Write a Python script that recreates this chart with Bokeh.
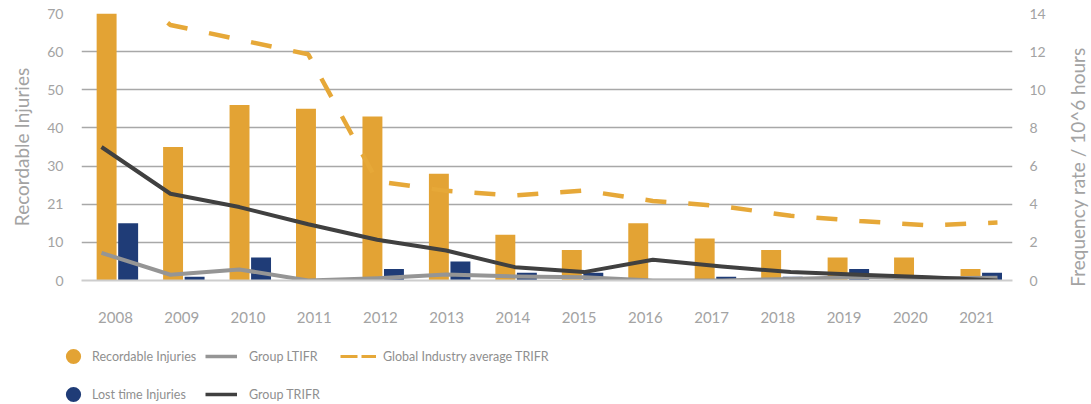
import math
from bokeh.plotting import figure
from bokeh.layouts import row, column
from bokeh.models import (ColumnDataSource, Range1d, LinearAxis, FixedTicker, Legend,
                          LegendItem, Label)
from bokeh.transform import dodge
from bokeh.embed import file_html
from bokeh.resources import INLINE

# ---------------- data ----------------
years = ["2008", "2009", "2010", "2011", "2012", "2013", "2014",
         "2015", "2016", "2017", "2018", "2019", "2020", "2021"]
recordable = [70, 35, 46, 45, 43, 28, 12, 8, 15, 11, 8, 6, 6, 3]
lost_time = [15, 1, 6, 0, 3, 5, 2, 2, 0, 1, 1, 3, 0, 2]
group_ltifr = [1.45, 0.30, 0.58, 0.0, 0.12, 0.31, 0.21, 0.17, 0.0, 0.0, 0.08, 0.18, 0.12, 0.14]
group_trifr = [7.0, 4.55, 3.85, 2.95, 2.14, 1.57, 0.70, 0.44, 1.09, 0.74, 0.44, 0.30, 0.17, 0.0]
global_trifr = [16.4, 13.4, 12.63, 11.86, 5.2, 4.70, 4.46, 4.72, 4.17, 3.90, 3.39, 3.12, 2.89, 3.04]

left_ticks = [0, 10, 20, 30, 40, 50, 60, 70]
left_tick_labels = ["0", "10", "21", "30", "40", "50", "60", "70"]
right_ticks = [0, 2, 4, 6, 8, 10, 12, 14]

# ---------------- style ----------------
FONT = "Lato"
ORANGE = "#E3A334"
NAVY = "#1F3C77"
DARK = "#404040"
GREY = "#959595"
DASH = "#E6A838"
GRID = "#a8a8a8"
TXT = "#a3a3a3"
LEG_TXT = "#8f8f8f"
NAN = float("nan")

idx = list(range(len(years)))
src = ColumnDataSource(dict(idx=idx, rec=recordable, lost=lost_time,
                            ltifr=group_ltifr, trifr=group_trifr, glob=global_trifr))

# ---------------- main chart ----------------
p = figure(frame_width=931, frame_height=267,
           min_border_left=81, min_border_right=52, min_border_top=13, min_border_bottom=50,
           x_range=Range1d(-0.54, 13.47), y_range=Range1d(0, 70),
           x_axis_location=None, y_axis_location=None,
           output_backend="svg", toolbar_location=None)
p.outline_line_color = None
p.background_fill_color = "white"
p.border_fill_color = "white"
p.extra_x_ranges = {"lines": Range1d(-0.29, 13.218), "labels": Range1d(-0.513, 13.543)}
p.extra_y_ranges = {"freq": Range1d(0, 14)}

p.xgrid.visible = False
p.ygrid.ticker = FixedTicker(ticks=left_ticks)
p.ygrid.grid_line_color = GRID
p.ygrid.grid_line_width = 1.3

# bars
p.vbar(x=dodge("idx", -0.162, range=p.x_range), top="rec", width=0.30, bottom=0,
       source=src, fill_color=ORANGE, line_color=None)
p.vbar(x=dodge("idx", 0.162, range=p.x_range), top="lost", width=0.30, bottom=0,
       source=src, fill_color=NAVY, line_color=None)

# lines
p.line("idx", "glob", source=src, x_range_name="lines", y_range_name="freq",
       line_color=DASH, line_width=4.5, line_dash="21 22")
p.line("idx", "ltifr", source=src, x_range_name="lines", y_range_name="freq",
       line_color=GREY, line_width=4, line_join="round")
p.line("idx", "trifr", source=src, x_range_name="lines", y_range_name="freq",
       line_color=DARK, line_width=4, line_join="round")

# axes
xa = LinearAxis(x_range_name="labels", ticker=FixedTicker(ticks=idx),
                major_label_overrides={i: y for i, y in zip(idx, years)})
xa.axis_line_color = "#cdcdcd"
xa.axis_line_width = 2
xa.major_tick_line_color = None
xa.minor_tick_line_color = None
xa.major_tick_out = 0
xa.major_label_standoff = 31
xa.major_label_text_font = FONT
xa.major_label_text_font_size = "15px"
xa.major_label_text_color = TXT
p.add_layout(xa, "below")

yl = LinearAxis(ticker=FixedTicker(ticks=left_ticks),
                major_label_overrides={t: l for t, l in zip(left_ticks, left_tick_labels)},
                axis_label="Recordable Injuries")
yr = LinearAxis(y_range_name="freq", ticker=FixedTicker(ticks=right_ticks))
for ax in (yl, yr):
    ax.axis_line_color = None
    ax.major_tick_line_color = None
    ax.minor_tick_line_color = None
    ax.major_tick_out = 0
    ax.major_label_text_font = FONT
    ax.major_label_text_font_size = "14px"
    ax.major_label_text_color = TXT
yl.major_label_standoff = 18
yr.major_label_standoff = 17
yl.axis_label_text_font = FONT
yl.axis_label_text_font_size = "19px"
yl.axis_label_text_font_style = "normal"
yl.axis_label_text_color = TXT
yl.axis_label_standoff = 11
p.add_layout(yl, "left")
p.add_layout(yr, "right")

# ---------------- right-hand title strip ----------------
pt = figure(frame_width=27, frame_height=330, min_border=0,
            x_range=Range1d(0, 1), y_range=Range1d(0, 1),
            x_axis_location=None, y_axis_location=None,
            output_backend="svg", toolbar_location=None)
pt.outline_line_color = None
pt.grid.visible = False
pt.add_layout(Label(x=12.5, y=176.5, x_units="screen", y_units="screen",
                    text="Frequency rate / 10^6 hours", angle=math.pi / 2,
                    text_align="center", text_baseline="middle",
                    text_font=FONT, text_font_size="19px", text_color=TXT))

# ---------------- legend strip ----------------
pl = figure(frame_width=1091, frame_height=74, min_border=0,
            x_range=Range1d(0, 1), y_range=Range1d(0, 1),
            x_axis_location=None, y_axis_location=None,
            output_backend="svg", toolbar_location=None)
pl.outline_line_color = None
pl.grid.visible = False

r_rec = pl.scatter(x=[NAN], y=[NAN], marker="circle", size=10, fill_color=ORANGE, line_color=None)
r_lost = pl.scatter(x=[NAN], y=[NAN], marker="circle", size=10, fill_color=NAVY, line_color=None)
r_lt = pl.line(x=[NAN, NAN], y=[NAN, NAN], line_color=GREY, line_width=3.5)
r_tr = pl.line(x=[NAN, NAN], y=[NAN, NAN], line_color=DARK, line_width=3.5)
r_gl = pl.line(x=[NAN, NAN], y=[NAN, NAN], line_color=DASH, line_width=3, line_dash="17 4")


def make_legend(items, loc, gw, standoff):
    return Legend(items=items, location=loc, orientation="vertical",
                  glyph_width=gw, glyph_height=38, label_height=38,
                  label_standoff=standoff, spacing=0, padding=0, margin=0,
                  border_line_color=None, background_fill_alpha=0,
                  label_text_font=FONT, label_text_font_size="12.5px",
                  label_text_color=LEG_TXT)


pl.add_layout(make_legend([LegendItem(label="Recordable Injuries", renderers=[r_rec]),
                           LegendItem(label="Lost time Injuries", renderers=[r_lost])],
                          (54, -9), 38, 0))
pl.add_layout(make_legend([LegendItem(label="Group LTIFR", renderers=[r_lt]),
                           LegendItem(label="Group TRIFR", renderers=[r_tr])],
                          (205, -9), 32, 12))
pl.add_layout(make_legend([LegendItem(label="Global Industry average TRIFR", renderers=[r_gl])],
                          (340, 29), 36, 7))

layout = column(row(p, pt), pl)
open("out.html", "w").write(file_html(layout, INLINE))
